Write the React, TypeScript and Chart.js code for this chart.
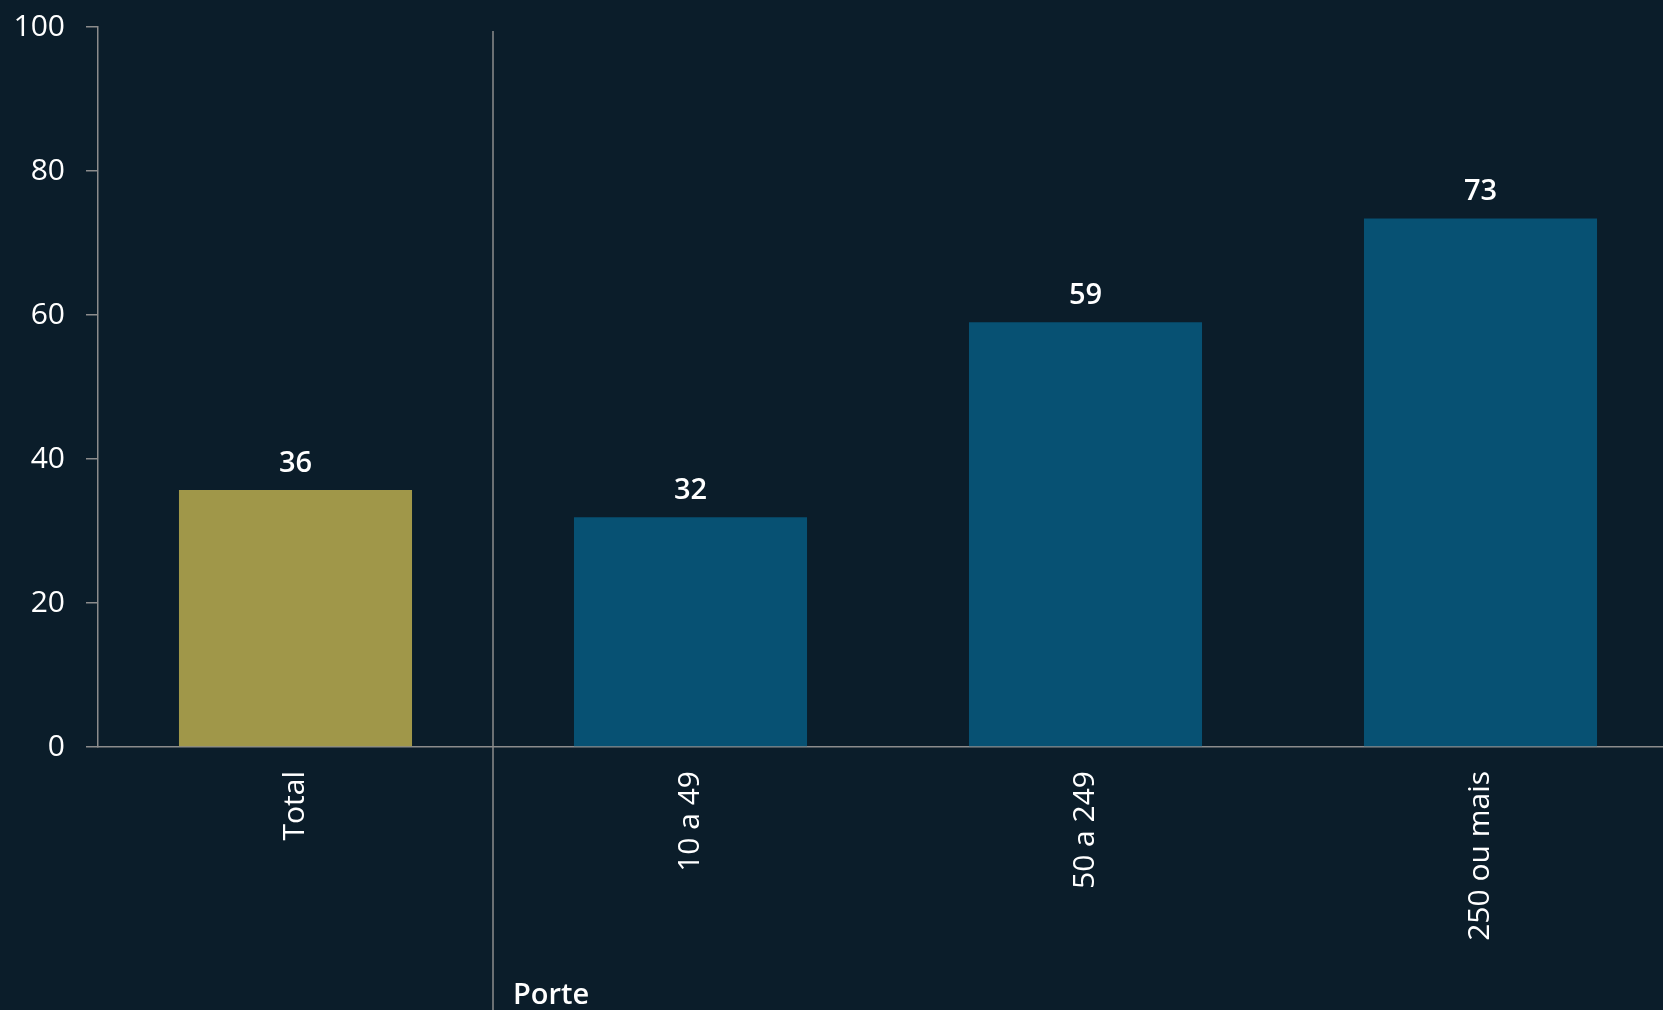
import React, { useEffect, useRef } from "react";
import { Chart, registerables } from "chart.js";

Chart.register(...registerables);

const categories = ["Total", "10 a 49", "50 a 249", "250 ou mais"];
const values = [35.7, 31.9, 59.0, 73.4];
const valueLabels = ["36", "32", "59", "73"];
const yTicks = [0, 20, 40, 60, 80, 100];
const groupTitle = "Porte";

const BG = "#0b1d2a";
const AXIS = "#8c8c8c";
const TEXT = "#ffffff";
const FONT = "'Open Sans', 'Noto Sans', sans-serif";

export default function App() {
  const ref = useRef<HTMLCanvasElement | null>(null);

  useEffect(() => {
    if (!ref.current) return;
    const overlay = {
      id: "overlay",
      afterDatasetsDraw(chart: any) {
        const ctx = chart.ctx;
        const meta = chart.getDatasetMeta(0);
        ctx.save();
        ctx.fillStyle = TEXT;
        ctx.font = `600 29px ${FONT}`;
        ctx.textAlign = "center";
        ctx.textBaseline = "bottom";
        meta.data.forEach((bar: any, i: number) => {
          ctx.fillText(valueLabels[i], bar.x, bar.y - 12);
        });
        const xs = chart.scales.x;
        const dx = (xs.getPixelForValue(0) + xs.getPixelForValue(1)) / 2;
        ctx.strokeStyle = AXIS;
        ctx.lineWidth = 1.5;
        ctx.beginPath();
        ctx.moveTo(dx, chart.chartArea.top + 4);
        ctx.lineTo(dx, chart.height);
        ctx.stroke();
        ctx.textAlign = "left";
        ctx.textBaseline = "alphabetic";
        ctx.font = `600 29px ${FONT}`;
        ctx.fillText(groupTitle, dx + 20, chart.height - 6);
        ctx.restore();
      },
    };
    const chart = new Chart(ref.current, {
      type: "bar",
      data: {
        labels: categories,
        datasets: [
          {
            data: values,
            backgroundColor: ["#a09749", "#075173", "#075173", "#075173"],
            categoryPercentage: 1,
            barPercentage: 0.59,
          },
        ],
      },
      options: {
        animation: false,
        responsive: false,
        maintainAspectRatio: false,
        layout: { padding: { top: 27, right: 22, left: 0, bottom: 0 } },
        plugins: { legend: { display: false }, tooltip: { enabled: false } },
        scales: {
          x: {
            grid: { display: false },
            border: { display: true, color: AXIS, width: 1.5 },
            ticks: {
              color: TEXT,
              font: { family: FONT, size: 30 },
              maxRotation: 90,
              minRotation: 90,
              padding: 16,
            },
            afterFit(scale: any) {
              scale.height = 263;
              scale.paddingLeft = 0;
              scale.paddingRight = 0;
            },
          },
          y: {
            min: 0,
            max: 100,
            afterBuildTicks(scale: any) {
              scale.ticks = yTicks.map((v) => ({ value: v }));
            },
            grid: {
              drawOnChartArea: false,
              drawTicks: true,
              tickLength: 12,
              color: AXIS,
              lineWidth: 1.5,
            },
            border: { display: true, color: AXIS, width: 1.5 },
            ticks: {
              color: TEXT,
              font: { family: FONT, size: 30 },
              padding: 21,
            },
            afterFit(scale: any) {
              scale.width = 98;
              scale.paddingTop = 0;
              scale.paddingBottom = 0;
            },
          },
        },
      },
      plugins: [overlay],
    });
    return () => chart.destroy();
  }, []);

  return (
    <div
      style={{
        position: "fixed",
        left: 0,
        top: 0,
        width: 1663,
        height: 1010,
        overflow: "hidden",
        background: BG,
      }}
    >
      <canvas ref={ref} width={1700} height={1010} style={{ display: "block" }} />
    </div>
  );
}
